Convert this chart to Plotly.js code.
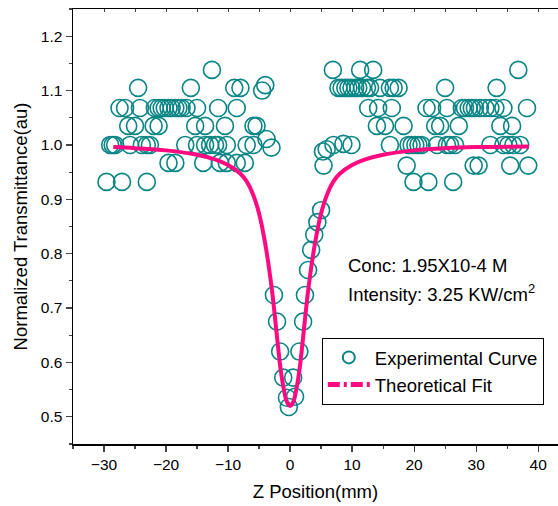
<!DOCTYPE html>
<html>
<head>
<meta charset="utf-8">
<script src="https://cdn.plot.ly/plotly-3.0.1.min.js"></script>
<style>html,body{margin:0;padding:0;background:#fff;}#chart{width:558px;height:506px;}</style>
</head>
<body>
<div id="chart"></div>
<script>
// Experimental points (Z position in mm, normalized transmittance)
var expX = [
  -12.6,
  -24.5,-16,-9,-8,-4.5,-4,
  -27.5,-26.6,-24.2,-21.8,-21.2,-20.7,-20.2,-19.6,-19.1,-18.5,-18.0,-17.5,-16.7,-15.0,-11.6,-8.6,
  -26.1,-25,-22,-21.2,-15.3,-13.7,-10.5,-5.9,-5.4,-3.8,-3.0,
  -29,-28.6,-28.2,-25.8,-23.9,-23.1,-22.6,-16.9,-15,-13.7,-12.9,-12.1,-11.6,-10.2,-7,-5.9,
  -19.6,-18.5,-14,-11.3,-10.2,-8.6,-7.3,
  -29.6,-27.1,-23.1,
  -2.6,-2.1,-1.6,-1.1,-0.5,-0.2,0.5,0.8,1.5,2.1,2.4,2.9,3.4,3.9,4.4,5.0,
  5.4,5.3,5.9,7.0,8.6,9.9,
  6.9,11.3,13.4,36.8,
  7.8,8.3,8.9,9.4,9.9,10.5,11.0,11.6,12.4,12.9,14.5,16.1,16.7,17.5,25,33.3,
  12.6,14.2,16.4,22,22.9,25.3,27.7,28.2,28.8,29.3,29.8,30.6,31.5,32.3,33.1,34.4,38.2,
  14,15.3,18.3,23.4,24.2,27.2,33.9,35.8,
  16.1,19.1,19.6,20.2,20.7,21.2,23.7,25.3,25.8,26.6,32.3,34.4,35.2,36,37.1,
  18.8,29.6,30.4,35.5,38.4,
  19.9,22.3,26.3
];
var expY = [
  1.138,
  1.105,1.105,1.105,1.105,1.100,1.110,
  1.068,1.068,1.068,1.068,1.068,1.068,1.068,1.068,1.068,1.068,1.068,1.068,1.068,1.068,1.068,1.068,
  1.035,1.035,1.035,1.035,1.035,1.035,1.035,1.035,1.035,1.011,0.995,
  1.000,1.000,1.000,1.000,1.000,1.000,1.000,1.000,1.000,1.000,1.000,1.000,1.000,1.000,1.000,1.000,
  0.967,0.967,0.967,0.967,0.967,0.967,0.967,
  0.932,0.932,0.932,
  0.724,0.675,0.620,0.572,0.535,0.518,0.572,0.537,0.620,0.675,0.724,0.770,0.807,0.835,0.858,0.880,
  0.962,0.988,0.992,1.000,1.002,1.000,
  1.138,1.138,1.138,1.138,
  1.105,1.105,1.105,1.105,1.105,1.105,1.105,1.105,1.105,1.105,1.105,1.105,1.105,1.105,1.105,1.105,
  1.068,1.068,1.068,1.068,1.068,1.068,1.068,1.068,1.068,1.068,1.068,1.068,1.068,1.068,1.068,1.068,1.068,
  1.035,1.035,1.035,1.035,1.035,1.035,1.035,1.035,
  1.000,1.000,1.000,1.000,1.000,1.000,1.000,1.000,1.000,1.000,1.000,1.000,1.000,1.000,1.000,
  0.962,0.962,0.962,0.962,0.962,
  0.932,0.932,0.932
];
// Theoretical fit curve
var fitX = [-28.5,-25,-20,-15,-12,-10,-8,-7,-6,-5,-4,-3,-2.5,-2,-1.5,-1,-0.5,0,0.5,1,1.5,2,2.5,3,4,5,6,7,8,10,12,15,20,25,30,38.5];
var fitY = [0.996,0.994,0.990,0.982,0.973,0.963,0.947,0.933,0.910,0.874,0.818,0.740,0.690,0.635,0.585,0.550,0.527,0.520,0.527,0.550,0.585,0.635,0.690,0.740,0.818,0.874,0.910,0.933,0.947,0.963,0.973,0.982,0.990,0.994,0.996,0.997];

var xTicks = [-30,-20,-10,0,10,20,30,40];
var yTicks = [0.5,0.6,0.7,0.8,0.9,1.0,1.1,1.2];
var yTickText = ['0.5','0.6','0.7','0.8','0.9','1.0','1.1','1.2'];

var teal = '#0a8585';
var pink = '#ff0a80';
var font = 'Liberation Sans, Arial, sans-serif';

var traces = [
  {x: expX, y: expY, type: 'scatter', mode: 'markers', name: 'Experimental Curve',
   marker: {symbol: 'circle-open', size: 17, color: teal, line: {width: 1.6, color: teal}},
   hoverinfo: 'skip'},
  {x: fitX, y: fitY, type: 'scatter', mode: 'lines', name: 'Theoretical Fit', showlegend: false,
   line: {color: pink, width: 4, shape: 'spline'}, hoverinfo: 'skip'},
  {x: [null], y: [null], type: 'scatter', mode: 'lines', name: 'Theoretical Fit',
   line: {color: pink, width: 4, dash: '12px,4px,3px,4px'}},
  {x: [null], y: [null], type: 'scatter', mode: 'lines', xaxis: 'x2', showlegend: false, hoverinfo: 'skip'}
];

var layout = {
  width: 558, height: 506,
  margin: {l: 73, r: 0, t: 9, b: 62},
  paper_bgcolor: '#fff', plot_bgcolor: '#fff',
  font: {family: font, color: '#000', size: 15},
  showlegend: true,
  legend: {x: 0.513, y: 0.244, xanchor: 'left', yanchor: 'top',
           bordercolor: '#000', borderwidth: 1, bgcolor: '#fff',
           font: {family: font, size: 18.5, color: '#000'},
           itemsizing: 'constant', itemwidth: 42, tracegroupgap: 0},
  xaxis: {range: [-35, 43.2], tickvals: xTicks, ticks: 'outside', ticklen: 6, tickwidth: 1.2,
          showline: true, linecolor: '#000', linewidth: 1.5, showgrid: false, zeroline: false,
          minor: {dtick: 5, tick0: 0, ticks: 'outside', ticklen: 3, tickwidth: 1.2, showgrid: false},
          tickfont: {size: 15.5, family: font},
          title: {text: 'Z Position(mm)', font: {size: 18.5, family: font}, standoff: 13}},
  xaxis2: {overlaying: 'x', matches: 'x', side: 'top', anchor: 'y', dtick: 5, tick0: 0,
           ticks: 'inside', ticklen: 3, tickwidth: 1, showticklabels: false,
           showline: true, linecolor: '#000', linewidth: 1.5, showgrid: false, zeroline: false},
  yaxis: {range: [0.45, 1.25], tickvals: yTicks, ticktext: yTickText, ticks: 'outside', ticklen: 6, tickwidth: 1.2,
          showline: true, linecolor: '#000', linewidth: 1.5, showgrid: false, zeroline: false,
          minor: {dtick: 0.05, tick0: 0, ticks: 'outside', ticklen: 3, tickwidth: 1.2, showgrid: false},
          tickfont: {size: 15.5, family: font},
          title: {text: 'Normalized Transmittance(au)', font: {size: 18.5, family: font}, standoff: 8}},
  annotations: [
    {xref: 'paper', yref: 'paper', x: 0.563, y: 0.4095, xanchor: 'left', yanchor: 'middle', showarrow: false,
     text: 'Conc: 1.95X10-4 M', font: {size: 18.5, family: font, color: '#000'}},
    {xref: 'paper', yref: 'paper', x: 0.563, y: 0.347, xanchor: 'left', yanchor: 'middle', showarrow: false,
     text: 'Intensity: 3.25 KW/cm<sup>2</sup>', font: {size: 18.5, family: font, color: '#000'}}
  ]
};

Plotly.newPlot('chart', traces, layout, {displayModeBar: false, staticPlot: true});
</script>
</body>
</html>
